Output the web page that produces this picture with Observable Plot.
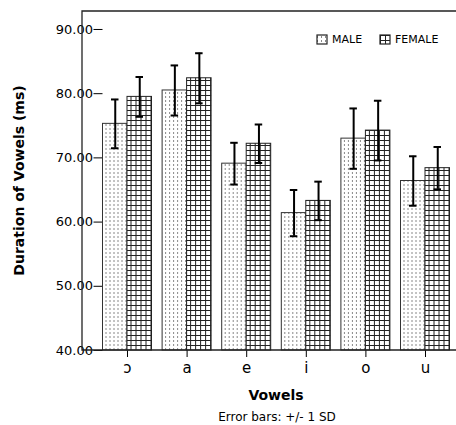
<!DOCTYPE html>
<html><head><meta charset="utf-8">
<script src="https://cdn.jsdelivr.net/npm/d3@7"></script>
<script src="https://cdn.jsdelivr.net/npm/@observablehq/plot@0.6"></script>
<style>
body{margin:0;overflow:hidden;background:#fff}
#wrap{position:relative;width:456px;height:425px;overflow:hidden}
#wrap svg{max-width:none !important}
</style>
</head><body><div id="wrap"></div>
<script>
const vowels = ["ɔ","a","e","i","o","u"];
const sexes = ["MALE","FEMALE"];
const maleMean = [75.3,80.5,69.1,61.4,73.0,66.4];
const maleSD = [3.8,3.9,3.25,3.6,4.7,3.85];
const femaleMean = [79.5,82.4,72.2,63.3,74.25,68.4];
const femaleSD = [3.1,3.9,3.0,3.0,4.65,3.3];
const yTicks = [40,50,60,70,80,90];
const yDomain = [40, 92.8];

const rows = [];
vowels.forEach((v,i)=>{
  rows.push({vowel:v, sex:"MALE", mean:maleMean[i], lo:maleMean[i]-maleSD[i], hi:maleMean[i]+maleSD[i]});
  rows.push({vowel:v, sex:"FEMALE", mean:femaleMean[i], lo:femaleMean[i]-femaleSD[i], hi:femaleMean[i]+femaleSD[i]});
});
const male = rows.filter(d=>d.sex==="MALE");
const female = rows.filter(d=>d.sex==="FEMALE");
const font = "'DejaVu Sans', sans-serif";

const chart = Plot.plot({
  width: 470, height: 425,
  marginLeft: 82, marginRight: 0, marginTop: 11, marginBottom: 75,
  style: {fontFamily: font, fontSize: "13px", color: "#000", background: "white", maxWidth: "none"},
  fx: {domain: vowels, paddingInner: 0.178, paddingOuter: 0.344, round: false, axis: "bottom", tickSize: 7, tickPadding: 5, label: null},
  x: {domain: sexes, padding: 0, axis: null, round: false},
  y: {domain: yDomain, ticks: yTicks, tickFormat: d3.format(".2f"), tickSize: 9, tickPadding: 1, label: null},
  marks: [
    Plot.barY(male, {fx:"vowel", x:"sex", y1: 40, y2:"mean", fill:"url(#pm)", stroke:"#333", strokeWidth: 1}),
    Plot.barY(female, {fx:"vowel", x:"sex", y1: 40, y2:"mean", fill:"url(#pf)", stroke:"#222", strokeWidth: 1}),
    Plot.ruleX(rows, {fx:"vowel", x:"sex", y1:"lo", y2:"hi", stroke:"#000", strokeWidth: 2}),
    Plot.tickY(rows, {fx:"vowel", x:"sex", y:"lo", insetLeft: 8.5, insetRight: 8.5, stroke:"#000", strokeWidth: 2}),
    Plot.tickY(rows, {fx:"vowel", x:"sex", y:"hi", insetLeft: 8.5, insetRight: 8.5, stroke:"#000", strokeWidth: 2})
  ]
});

const svg = d3.select(chart);
svg.selectAll('[aria-label="fx-axis tick label"] text').attr("font-size", 15);
svg.selectAll('[aria-label="fx-axis tick label"]').attr("font-size", 15);
const defs = svg.insert("defs", ":first-child");
const pm = defs.append("pattern").attr("id","pm").attr("patternUnits","userSpaceOnUse").attr("width",4).attr("height",4);
pm.append("rect").attr("width",4).attr("height",4).attr("fill","#fff");
pm.append("rect").attr("x",1).attr("y",0).attr("width",1).attr("height",2).attr("fill","#888");
const pf = defs.append("pattern").attr("id","pf").attr("patternUnits","userSpaceOnUse").attr("width",5).attr("height",5);
pf.append("rect").attr("width",5).attr("height",5).attr("fill","#fff");
pf.append("rect").attr("x",0).attr("y",0).attr("width",5).attr("height",1).attr("fill","#222");
pf.append("rect").attr("x",0).attr("y",0).attr("width",1).attr("height",5).attr("fill","#222");

const ys = chart.scale("y");
const yTop = Math.min(...ys.range), yBot = Math.max(...ys.range);
const xL = 82, xR = 470;
const g = svg.append("g").attr("text-anchor","start").attr("fill","#000");
g.append("path").attr("d",`M${xR},${yTop}H${xL}V${yBot}H${xR}`).attr("fill","none").attr("stroke","#222").attr("stroke-width",1.3);
g.append("text").attr("transform",`translate(19,${(yTop+yBot)/2}) rotate(-90)`).attr("text-anchor","middle").attr("dy","0.35em")
  .attr("font-weight","bold").attr("font-size",14).attr("font-family",font).text("Duration of Vowels (ms)");
g.append("text").attr("x",276).attr("y",400).attr("text-anchor","middle").attr("font-weight","bold").attr("font-size",14).attr("font-family",font).text("Vowels");
g.append("text").attr("x",277).attr("y",421).attr("text-anchor","middle").attr("font-size",12).attr("font-family",font).text("Error bars: +/- 1 SD");
// legend
const leg = [{k:"MALE", x:317, p:"url(#pm)"},{k:"FEMALE", x:380, p:"url(#pf)"}];
leg.forEach(l=>{
  g.append("rect").attr("x",l.x).attr("y",35).attr("width",10).attr("height",9).attr("fill",l.p).attr("stroke","#222").attr("stroke-width",1.2);
  g.append("text").attr("x",l.x+15).attr("y",39.5).attr("dy","0.35em").attr("text-anchor","start").attr("font-size",11).attr("font-family",font).text(l.k);
});

document.getElementById("wrap").appendChild(chart);
</script>
</body></html>
